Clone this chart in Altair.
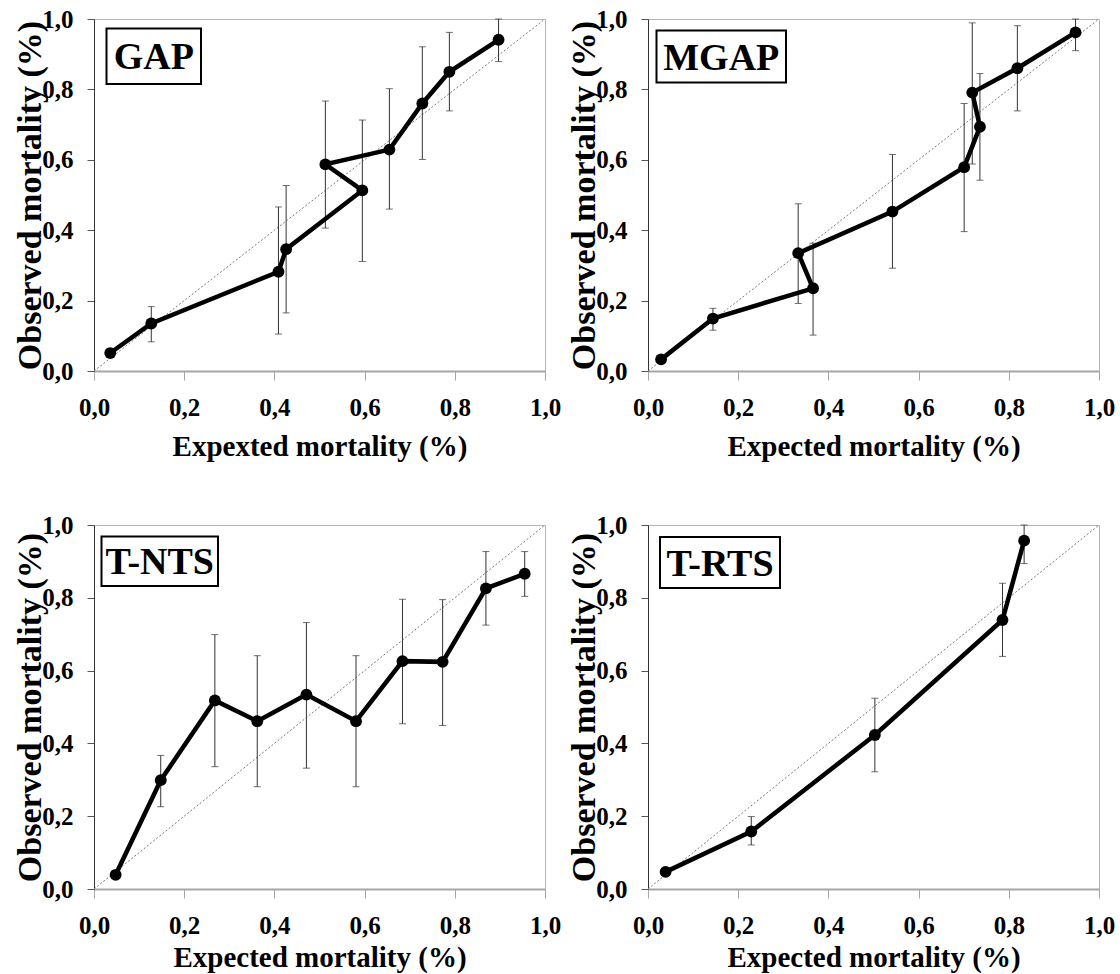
import altair as alt
import pandas as pd

FONT = "Liberation Serif"

# Calibration panels: expected vs observed mortality per risk group,
# with the lower / upper ends of each error bar.
gap_exp = [0.036, 0.127, 0.409, 0.426, 0.595, 0.513, 0.655, 0.728, 0.788, 0.897]
gap_obs = [0.051, 0.135, 0.282, 0.346, 0.513, 0.587, 0.629, 0.760, 0.850, 0.941]
gap_lo = [0.051, 0.083, 0.105, 0.165, 0.311, 0.406, 0.460, 0.601, 0.739, 0.879]
gap_hi = [0.051, 0.183, 0.466, 0.527, 0.713, 0.767, 0.802, 0.921, 0.962, 1.000]

mgap_exp = [0.029, 0.144, 0.366, 0.333, 0.542, 0.701, 0.736, 0.719, 0.819, 0.948]
mgap_obs = [0.033, 0.149, 0.235, 0.335, 0.453, 0.579, 0.694, 0.791, 0.860, 0.962]
mgap_lo = [0.033, 0.116, 0.102, 0.192, 0.292, 0.396, 0.542, 0.588, 0.739, 0.910]
mgap_hi = [0.033, 0.178, 0.363, 0.475, 0.615, 0.760, 0.845, 0.989, 0.981, 1.000]

tnts_exp = [0.048, 0.148, 0.268, 0.362, 0.471, 0.581, 0.684, 0.773, 0.869, 0.955]
tnts_obs = [0.039, 0.299, 0.518, 0.461, 0.534, 0.461, 0.626, 0.624, 0.826, 0.866]
tnts_lo = [0.039, 0.226, 0.336, 0.281, 0.332, 0.281, 0.454, 0.449, 0.725, 0.804]
tnts_hi = [0.039, 0.367, 0.699, 0.641, 0.732, 0.641, 0.796, 0.795, 0.927, 0.927]

trts_exp = [0.039, 0.229, 0.503, 0.786, 0.834]
trts_obs = [0.047, 0.158, 0.423, 0.739, 0.957]
trts_lo = [0.047, 0.121, 0.322, 0.639, 0.894]
trts_hi = [0.047, 0.199, 0.524, 0.840, 1.000]

# Line of perfect calibration
ref_exp = [0.0, 1.0]
ref_obs = [0.0, 1.0]

tick_values = [0.0, 0.2, 0.4, 0.6, 0.8, 1.0]
comma_labels = "replace(format(datum.value, '.1f'), '.', ',')"

PANEL_W = 451


def panel(name, exp, obs, lo, hi, xtitle, height, title_y, box):
    df = pd.DataFrame({
        "group": list(range(1, len(exp) + 1)),
        "expected": exp,
        "observed": obs,
        "lower": lo,
        "upper": hi,
    })
    ref = pd.DataFrame({"expected": ref_exp, "observed": ref_obs})

    scale = alt.Scale(domain=[0, 1], nice=False, zero=False)
    x_axis = alt.Axis(
        values=tick_values, labelExpr=comma_labels, title=xtitle,
        titleY=title_y, titleBaseline="alphabetic",
        labelBaseline="alphabetic", labelPadding=35, tickSize=9,
        domainColor="#a6a6a6", domainWidth=2, tickColor="#a6a6a6",
        tickWidth=1, grid=False, labelFlush=False, labelOverlap=False,
        labelFont=FONT, titleFont=FONT, labelFontWeight="bold",
        titleFontWeight="bold", labelColor="black", titleColor="black",
        labelFontSize=25, titleFontSize=29,
    )
    y_axis = alt.Axis(
        values=tick_values, labelExpr=comma_labels,
        title="Observed mortality (%)", titleX=-54, titleAngle=270,
        titleBaseline="alphabetic", labelPadding=14, tickSize=7,
        domainColor="#333333", domainWidth=1, tickColor="#555555",
        tickWidth=1, grid=False, labelFlush=False, labelOverlap=False,
        labelFont=FONT, titleFont=FONT, labelFontWeight="bold",
        titleFontWeight="bold", labelColor="black", titleColor="black",
        labelBaseline="middle", labelFontSize=25, titleFontSize=34,
    )
    x = alt.X("expected:Q", scale=scale, axis=x_axis)
    y = alt.Y("observed:Q", scale=scale, axis=y_axis)
    y_lo = alt.Y("lower:Q", scale=scale, axis=y_axis)
    y_hi = alt.Y("upper:Q", scale=scale, axis=y_axis)

    diag = alt.Chart(ref).mark_line(
        color="#7a7a7a", strokeWidth=1, strokeDash=[2, 2]
    ).encode(x=x, y=y)

    base = alt.Chart(df)
    bars = base.mark_rule(color="#333333", strokeWidth=1).encode(
        x=x, y=y_lo, y2="upper:Q"
    )
    cap_lo = base.mark_tick(
        orient="horizontal", size=7, thickness=1, color="#333333"
    ).encode(x=x, y=y_lo)
    cap_hi = base.mark_tick(
        orient="horizontal", size=7, thickness=1, color="#333333"
    ).encode(x=x, y=y_hi)
    line = base.mark_line(color="black", strokeWidth=4.5).encode(
        x=x, y=y, order="group:O"
    )
    dots = base.mark_circle(size=140, color="black", opacity=1).encode(x=x, y=y)

    x0, x1, y0, y1 = box
    lab = alt.Chart(pd.DataFrame({"label": [name]}))
    frame = lab.mark_rect(fill="white", stroke="black", strokeWidth=2).encode(
        x=alt.value(x0), x2=alt.value(x1), y=alt.value(y0), y2=alt.value(y1)
    )
    text = lab.mark_text(
        font=FONT, fontWeight="bold", fontSize=38, baseline="middle",
        align="center", color="black", dy=2
    ).encode(
        x=alt.value((x0 + x1) / 2), y=alt.value((y0 + y1) / 2), text="label:N"
    )

    return alt.layer(diag, bars, cap_lo, cap_hi, line, dots, frame, text).properties(
        width=PANEL_W, height=height
    )


p_gap = panel("GAP", gap_exp, gap_obs, gap_lo, gap_hi,
              "Expexted mortality (%)", 352, 84, (12.5, 107, 9.5, 65))
p_mgap = panel("MGAP", mgap_exp, mgap_obs, mgap_lo, mgap_hi,
               "Expected mortality (%)", 352, 84, (8.5, 138, 11.5, 63.5))
p_tnts = panel("T-NTS", tnts_exp, tnts_obs, tnts_lo, tnts_hi,
               "Expected mortality (%)", 364, 77, (7.5, 124, 11.5, 61))
p_trts = panel("T-RTS", trts_exp, trts_obs, trts_lo, trts_hi,
               "Expected mortality (%)", 364, 77, (12, 132, 12, 63))

chart = alt.concat(
    p_gap, p_mgap, p_tnts, p_trts,
    columns=2, spacing={"row": 154, "column": 103}, bounds="flush",
).properties(
    padding={"left": 12, "top": 6, "right": 0, "bottom": 0},
    background="white",
).configure(
    font=FONT
).configure_axis(
    labelFont=FONT, titleFont=FONT, labelFontWeight="bold",
    titleFontWeight="bold",
).configure_view(
    stroke="#b5b5b5", strokeWidth=1
)

chart.save("out.html", embed_options={"renderer": "svg", "actions": False})
